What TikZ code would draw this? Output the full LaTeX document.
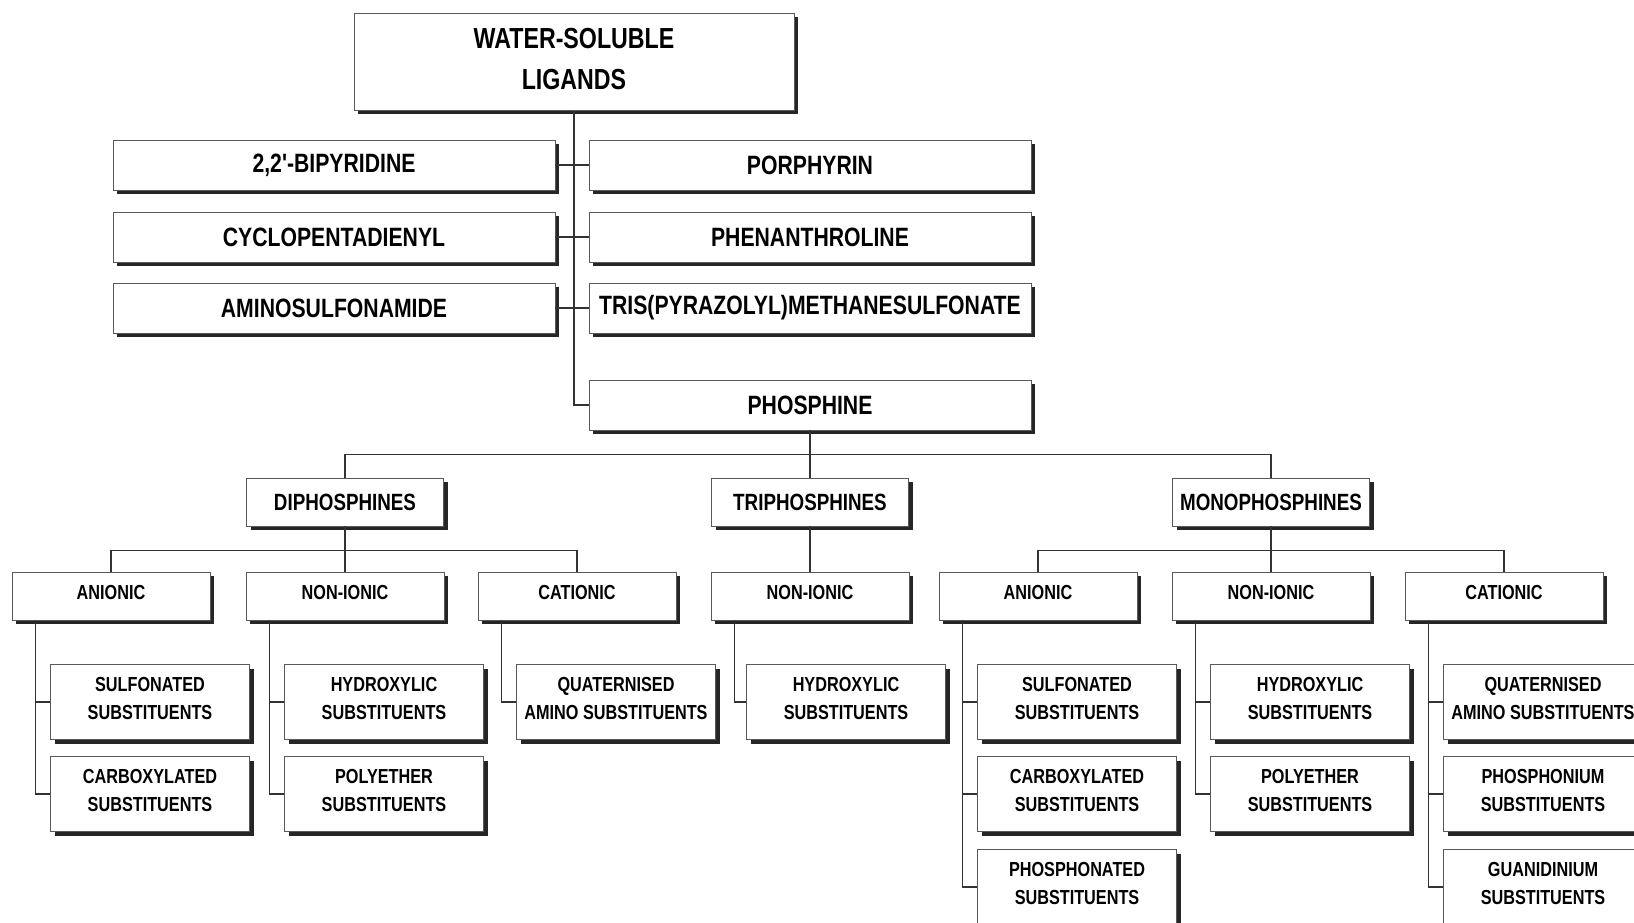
\documentclass[tikz,border=0pt]{standalone}
\usepackage{fontspec}
\newfontfamily\ligfont{Liberation Sans}[FakeStretch=0.8]
\usetikzlibrary{shadows}

\tikzset{
  ligbox/.style={draw=black!65, line width=0.8pt, fill=white, inner sep=0pt, align=center,
    general shadow={fill=black!85, shadow xshift=4pt, shadow yshift=-4pt}},
  topbox/.style={ligbox, minimum width=440pt, minimum height=97pt, text depth=6pt,
    font=\ligfont\bfseries\fontsize{29}{41}\selectfont},
  classbox/.style={ligbox, minimum width=442pt, minimum height=50pt,
    font=\ligfont\bfseries\fontsize{26.5}{32}\selectfont},
  phosbox/.style={ligbox, minimum width=197pt, minimum height=48pt,
    font=\ligfont\bfseries\fontsize{23.5}{28}\selectfont},
  chargebox/.style={ligbox, minimum width=198pt, minimum height=48pt, text depth=7pt,
    font=\ligfont\bfseries\fontsize{20.3}{28}\selectfont},
  subbox/.style={ligbox, minimum width=199pt, minimum height=75pt, text depth=7pt,
    font=\ligfont\bfseries\fontsize{20.3}{28}\selectfont},
  link/.style={draw=black!80, line width=1.3pt}
}

\begin{document}
\begin{tikzpicture}[x=1pt, y=-1pt]
    \useasboundingbox (0,0) rectangle (1634,923);
    \clip (0,0) rectangle (1634,923);

    % 根节点
    \node[topbox] (root) at (574,62) {WATER-SOLUBLE\\LIGANDS};

    % 第一层：两列配体
    \node[classbox] (bipy) at (334,165) {2,2'-BIPYRIDINE};
    \node[classbox] (cp) at (334,237) {CYCLOPENTADIENYL};
    \node[classbox] (amino) at (334,308) {AMINOSULFONAMIDE};
    \node[classbox] (porph) at (810,165) {PORPHYRIN};
    \node[classbox] (phen) at (810,237) {PHENANTHROLINE};
    \node[classbox] (tpms) at (810,308) {TRIS(PYRAZOLYL)METHANESULFONATE};
    \node[classbox] (phos) at (810,405) {PHOSPHINE};

    % 第二层：膦的种类
    \node[phosbox] (diph) at (345,502) {DIPHOSPHINES};
    \node[phosbox] (triph) at (810,502) {TRIPHOSPHINES};
    \node[phosbox] (mono) at (1271,502) {MONOPHOSPHINES};

    % 第三层：电荷类型
    \node[chargebox] (dan) at (111,596) {ANIONIC};
    \node[chargebox] (dnon) at (345,596) {NON-IONIC};
    \node[chargebox] (dcat) at (577,596) {CATIONIC};
    \node[chargebox] (tnon) at (810,596) {NON-IONIC};
    \node[chargebox] (man) at (1038,596) {ANIONIC};
    \node[chargebox] (mnon) at (1271,596) {NON-IONIC};
    \node[chargebox] (mcat) at (1504,596) {CATIONIC};

    % 第四层：取代基
    \node[subbox] (dsulf) at (150,702) {SULFONATED\\SUBSTITUENTS};
    \node[subbox] (dcarb) at (150,794) {CARBOXYLATED\\SUBSTITUENTS};
    \node[subbox] (dhydr) at (384,702) {HYDROXYLIC\\SUBSTITUENTS};
    \node[subbox] (dpoly) at (384,794) {POLYETHER\\SUBSTITUENTS};
    \node[subbox] (dquat) at (616,702) {QUATERNISED\\AMINO SUBSTITUENTS};
    \node[subbox] (thydr) at (846,702) {HYDROXYLIC\\SUBSTITUENTS};
    \node[subbox] (msulf) at (1077,702) {SULFONATED\\SUBSTITUENTS};
    \node[subbox] (mcarb) at (1077,794) {CARBOXYLATED\\SUBSTITUENTS};
    \node[subbox] (mphon) at (1077,887) {PHOSPHONATED\\SUBSTITUENTS};
    \node[subbox] (mhydr) at (1310,702) {HYDROXYLIC\\SUBSTITUENTS};
    \node[subbox] (mpoly) at (1310,794) {POLYETHER\\SUBSTITUENTS};
    \node[subbox] (mquat) at (1543,702) {QUATERNISED\\AMINO SUBSTITUENTS};
    \node[subbox] (mphos) at (1543,794) {PHOSPHONIUM\\SUBSTITUENTS};
    \node[subbox] (mguan) at (1543,887) {GUANIDINIUM\\SUBSTITUENTS};

    % 连线：主干
    \draw[link] (root.south) |- (phos.west);
    \draw[link] (bipy.east) -- (porph.west);
    \draw[link] (cp.east) -- (phen.west);
    \draw[link] (amino.east) -- (tpms.west);

    % 连线：膦分支
    \draw[link] (phos.south) -- (triph.north);
    \draw[link] (diph.north) -- ++(0,-23) -| (mono.north);
    \draw[link] (diph.south) -- (dnon.north);
    \draw[link] (dan.north) -- ++(0,-21) -| (dcat.north);
    \draw[link] (triph.south) -- (tnon.north);
    \draw[link] (mono.south) -- (mnon.north);
    \draw[link] (man.north) -- ++(0,-21) -| (mcat.north);

    % 连线：取代基
    \draw[link] ([xshift=24pt]dan.south west) |- (dsulf.west);
    \draw[link] ([xshift=24pt]dan.south west) |- (dcarb.west);
    \draw[link] ([xshift=24pt]dnon.south west) |- (dhydr.west);
    \draw[link] ([xshift=24pt]dnon.south west) |- (dpoly.west);
    \draw[link] ([xshift=24pt]dcat.south west) |- (dquat.west);
    \draw[link] ([xshift=24pt]tnon.south west) |- (thydr.west);
    \draw[link] ([xshift=24pt]man.south west) |- (msulf.west);
    \draw[link] ([xshift=24pt]man.south west) |- (mcarb.west);
    \draw[link] ([xshift=24pt]man.south west) |- (mphon.west);
    \draw[link] ([xshift=24pt]mnon.south west) |- (mhydr.west);
    \draw[link] ([xshift=24pt]mnon.south west) |- (mpoly.west);
    \draw[link] ([xshift=24pt]mcat.south west) |- (mquat.west);
    \draw[link] ([xshift=24pt]mcat.south west) |- (mphos.west);
    \draw[link] ([xshift=24pt]mcat.south west) |- (mguan.west);
\end{tikzpicture}
\end{document}
